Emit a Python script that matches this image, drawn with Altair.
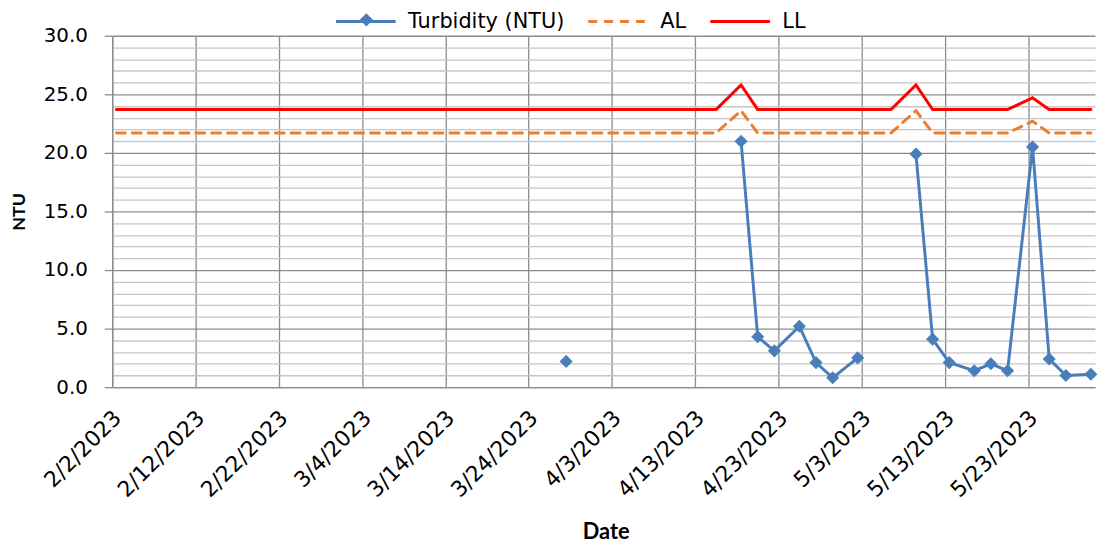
import altair as alt
import pandas as pd

# ---- data ----
dates = ["2023-02-02", "2023-03-28", "2023-04-15", "2023-04-18", "2023-04-20",
         "2023-04-22", "2023-04-25", "2023-04-27", "2023-04-29", "2023-05-02",
         "2023-05-06", "2023-05-09", "2023-05-11", "2023-05-13", "2023-05-16",
         "2023-05-18", "2023-05-20", "2023-05-23", "2023-05-25", "2023-05-27",
         "2023-05-30"]
turbidity = [None, 2.2, None, 21.0, 4.3, 3.1, 5.2, 2.1, 0.8, 2.5,
             None, 19.9, 4.1, 2.1, 1.4, 2.0, 1.4, 20.5, 2.4, 1.0, 1.1]
al_values = [21.7, 21.7, 21.7, 23.6, 21.7, 21.7, 21.7, 21.7, 21.7, 21.7,
             21.7, 23.6, 21.7, 21.7, 21.7, 21.7, 21.7, 22.7, 21.7, 21.7, 21.7]
ll_values = [23.7, 23.7, 23.7, 25.8, 23.7, 23.7, 23.7, 23.7, 23.7, 23.7,
             23.7, 25.8, 23.7, 23.7, 23.7, 23.7, 23.7, 24.7, 23.7, 23.7, 23.7]

series_names = ["Turbidity (NTU)", "AL", "LL"]
series_colors = ["#4a7ebb", "#ed7d31", "#ff0000"]
series_dashes = [[1, 0], [9, 7], [1, 0]]

x_tick_dates = ["2023-02-02", "2023-02-12", "2023-02-22", "2023-03-04",
                "2023-03-14", "2023-03-24", "2023-04-03", "2023-04-13",
                "2023-04-23", "2023-05-03", "2023-05-13", "2023-05-23"]
x_domain = ["2023-02-02", "2023-05-31"]
y_grid_values = list(range(0, 31))

# ---- build table (points sit in the middle of their day, as in a date axis) ----
df = pd.DataFrame({
    "date": pd.to_datetime(dates) + pd.Timedelta(hours=12),
    "Turbidity (NTU)": turbidity,
    "AL": al_values,
    "LL": ll_values,
})
long = df.melt(id_vars="date", var_name="series", value_name="value")


def dt(s):
    y, m, d = (int(p) for p in s.split("-"))
    return alt.DateTime(year=y, month=m, date=d)


major = "#8c8c8c"
minor = "#c6c6c6"
blue = series_colors[0]

x_enc = alt.X(
    "date:T",
    scale=alt.Scale(domain=[dt(s) for s in x_domain]),
    axis=alt.Axis(
        values=[dt(s) for s in x_tick_dates],
        format="%-m/%-d/%Y",
        labelAngle=-45, labelAlign="right", labelBaseline="middle",
        labelFont="DejaVu Sans", labelFontSize=22, labelColor="black",
        labelPadding=27, labelOffset=5, labelOverlap=False, labelFlush=False,
        labelBound=False,
        ticks=False, grid=True, gridColor=major, gridWidth=1.3,
        domainColor=major, domainWidth=1.3,
        title="Date", titleFont="Lato", titleFontSize=22, titleFontWeight="bold",
        titleColor="black", titleX=497, titleY=152, titleBaseline="alphabetic",
    ),
)

y_enc = alt.Y(
    "value:Q",
    scale=alt.Scale(domain=[0, 30], nice=False, zero=True),
    axis=alt.Axis(
        values=y_grid_values,
        labelExpr="datum.value % 5 === 0 ? format(datum.value, '.1f') : ''",
        labelFont="DejaVu Sans", labelFontSize=20, labelColor="black",
        labelPadding=17, labelOverlap=False, labelFlush=False, labelBound=False,
        grid=True,
        gridColor={"condition": {"test": "datum.value % 5 === 0", "value": major}, "value": minor},
        gridWidth=1.3,
        tickSize=8, tickColor=major, tickWidth=1.3,
        tickOpacity={"condition": {"test": "datum.value % 5 === 0", "value": 1}, "value": 0},
        domainColor=major, domainWidth=1.3,
        title="NTU", titleFont="Lato", titleFontSize=18, titleFontWeight="bold",
        titleColor="black", titleX=-88, titleY=177, titleBaseline="alphabetic",
        titleAngle=270,
    ),
)

line_legend = alt.Legend(
    title=None, orient="none", legendX=224, legendY=-46, direction="horizontal",
    symbolType="stroke", symbolSize=3600, symbolStrokeWidth=3,
    labelFont="DejaVu Sans", labelFontSize=21, labelColor="black", labelLimit=400,
    labelOffset=11, columnPadding=17, padding=0,
)

# small diamond drawn inside a 60px symbol box so that it lines up with the line legend
diamond_path = "M0,-0.22L0.22,0L0,0.22L-0.22,0Z"
marker_legend = alt.Legend(
    title=None, orient="none", legendX=226, legendY=-46, direction="horizontal",
    symbolSize=3600, symbolFillColor=blue, symbolStrokeColor=blue, symbolStrokeWidth=0,
    symbolOpacity=1, labelFont="DejaVu Sans", labelFontSize=21, labelOpacity=0,
    labelLimit=400, labelOffset=11, padding=0,
)

lines = alt.Chart(long).mark_line(
    strokeWidth=3, strokeCap="round", strokeJoin="miter",
    invalid="break-paths-show-domains",
).encode(
    x=x_enc,
    y=y_enc,
    color=alt.Color("series:N", scale=alt.Scale(domain=series_names, range=series_colors),
                    legend=line_legend, sort=series_names),
    strokeDash=alt.StrokeDash("series:N", scale=alt.Scale(domain=series_names, range=series_dashes),
                              legend=line_legend, sort=series_names),
    order=alt.Order("date:T"),
)

points = alt.Chart(long).transform_filter(
    "datum.series === 'Turbidity (NTU)' && isValid(datum.value)"
).mark_point(filled=True, size=3600, opacity=1, color=blue, strokeWidth=0).encode(
    x=x_enc,
    y=y_enc,
    shape=alt.Shape("series:N", scale=alt.Scale(domain=[series_names[0]], range=[diamond_path]),
                    legend=marker_legend),
)

chart = alt.layer(lines, points).properties(
    width=990, height=354,
    autosize=alt.AutoSizeParams(type="none"),
    padding={"left": 105, "top": 26, "right": 4, "bottom": 155},
).configure_view(stroke="transparent")

chart.save("out.html", embed_options={"renderer": "svg", "actions": False})
